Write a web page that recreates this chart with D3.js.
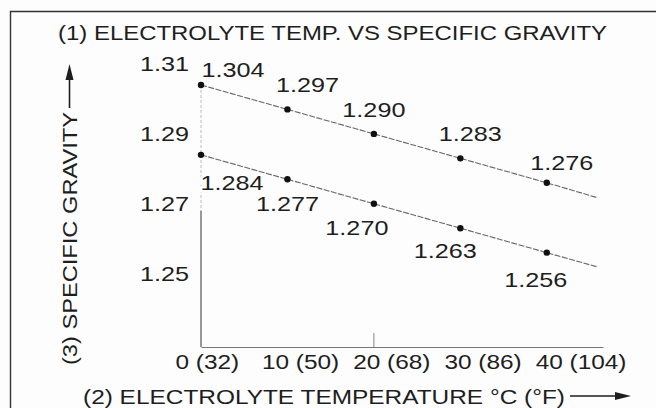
<!DOCTYPE html>
<html>
<head>
<meta charset="utf-8">
<script src="https://cdn.jsdelivr.net/npm/d3@7/dist/d3.min.js"></script>
<style>
  html, body { margin: 0; padding: 0; background: #fdfdfd; }
  svg { display: block; }
  text { font-family: "Liberation Sans", Arial, Helvetica, sans-serif; fill: #1e1e1e; }
</style>
</head>
<body>
<svg id="chart" width="656" height="408"></svg>
<script>
// ---- data ----
const temps = [0, 10, 20, 30, 40];                       // °C
const upperSG = [1.304, 1.297, 1.290, 1.283, 1.276];     // upper line
const lowerSG = [1.284, 1.277, 1.270, 1.263, 1.256];     // lower line
const xTickLabels = ["0 (32)", "10 (50)", "20 (68)", "30 (86)", "40 (104)"];
const yTickValues = [1.31, 1.29, 1.27, 1.25];
const markedTick = 20;                                    // only visible tick mark
const lineEndTemp = 45.9;                                 // lines run past last point
const upperEndSG = 1.2717;
const lowerEndSG = 1.2519;

const titleText = "(1) ELECTROLYTE TEMP. VS SPECIFIC GRAVITY";
const xTitleText = "(2) ELECTROLYTE TEMPERATURE \u00B0C (\u00B0F)";
const yTitleText = "(3) SPECIFIC GRAVITY";

// ---- layout (label nudges relative to their points, px) ----
const upperLabelDx = [32, 20, 0, 10, 15];
const upperLabelDy = [-8, -17, -17, -17, -13];
const lowerLabelDx = [31, 0, -17, -15, -11];
const lowerLabelDy = [35, 32, 31, 30, 34];

const svg = d3.select("#chart");
const W = 656, H = 408;

// widen glyphs (the reference uses an extended grotesque face)
function widen(sel, factor) {
  sel.each(function () {
    const w = this.getComputedTextLength();
    d3.select(this).attr("textLength", w * factor).attr("lengthAdjust", "spacingAndGlyphs");
  });
}

const x = d3.scaleLinear().domain([0, 46.5]).range([201, 603]);
const y = d3.scaleLinear().domain([1.229, 1.31]).range([347, 64]);

// frame
svg.append("path")
  .attr("d", `M10.5,${H} V11.5 H${W}`)
  .attr("fill", "none").attr("stroke", "#333").attr("stroke-width", 1.4);

// title
svg.append("text")
  .attr("x", 58).attr("y", 40)
  .attr("font-size", 21)
  .attr("textLength", 549).attr("lengthAdjust", "spacingAndGlyphs")
  .text(titleText);

// axes lines
const y0 = y.domain()[0];
svg.append("line")
  .attr("x1", x(0)).attr("x2", x(0))
  .attr("y1", y(upperSG[0])).attr("y2", y(1.268))
  .attr("stroke", "#bbb").attr("stroke-width", 1).attr("stroke-dasharray", "3,2");
svg.append("line")
  .attr("x1", x(0)).attr("x2", x(0))
  .attr("y1", y(1.268)).attr("y2", y(y0))
  .attr("stroke", "#555").attr("stroke-width", 1.2);

const xAxis = d3.axisBottom(x).tickValues(temps).tickSize(0).tickFormat((d, i) => xTickLabels[i]);
const gx = svg.append("g").attr("transform", `translate(0,${y(y0)})`).call(xAxis);
gx.select(".domain").attr("stroke", "#777").attr("stroke-width", 1.1);
gx.selectAll(".tick text")
  .attr("font-size", 19.5)
  .attr("fill", "#1e1e1e")
  .style("font-family", "'Liberation Sans', Arial, sans-serif")
  .attr("y", 0).attr("dy", 21.5);
widen(gx.selectAll(".tick text"), 1.25);

// simple left-to-right collision layout for the x tick labels
let prevEnd = -Infinity;
gx.selectAll(".tick").each(function (d) {
  const t = d3.select(this).select("text");
  const w = +t.attr("textLength");
  const start = Math.max(-26, prevEnd + 14 - x(d));
  t.attr("text-anchor", "start").attr("x", start);
  prevEnd = x(d) + start + w;
});

// the single visible tick mark
svg.append("line")
  .attr("x1", x(markedTick)).attr("x2", x(markedTick))
  .attr("y1", y(y0)).attr("y2", y(y0) - 14)
  .attr("stroke", "#888").attr("stroke-width", 1);

const yAxis = d3.axisLeft(y).tickValues(yTickValues).tickSize(0).tickFormat(d3.format(".2f"));
const gy = svg.append("g").attr("transform", `translate(${x(0)},0)`).call(yAxis);
gy.select(".domain").remove();
gy.selectAll(".tick text")
  .attr("font-size", 21)
  .attr("fill", "#1e1e1e")
  .style("font-family", "'Liberation Sans', Arial, sans-serif")
  .attr("x", -12);
widen(gy.selectAll(".tick text"), 1.2);

// lines
const lineGen = d3.line().x(d => x(d[0])).y(d => y(d[1]));
const series = [
  { vals: upperSG, end: upperEndSG, dx: upperLabelDx, dy: upperLabelDy },
  { vals: lowerSG, end: lowerEndSG, dx: lowerLabelDx, dy: lowerLabelDy }
];

series.forEach(s => {
  const pts = temps.map((t, i) => [t, s.vals[i]]).concat([[lineEndTemp, s.end]]);
  svg.append("path")
    .attr("d", lineGen(pts))
    .attr("fill", "none")
    .attr("stroke", "#666")
    .attr("stroke-width", 1.1)
    .attr("stroke-dasharray", "6,1.5");
});

series.forEach(s => {
  // labels with white halo (breaks the line where they overlap)
  const lab = svg.append("g").selectAll("text")
    .data(temps)
    .join("text")
    .attr("x", (t, i) => x(t) + s.dx[i])
    .attr("y", (t, i) => y(s.vals[i]) + s.dy[i])
    .attr("text-anchor", "middle")
    .attr("font-size", 21)
    .attr("stroke", "#fdfdfd").attr("stroke-width", 5)
    .attr("paint-order", "stroke")
    .text((t, i) => s.vals[i].toFixed(3));
  widen(lab, 1.2);
  svg.append("g").selectAll("circle")
    .data(temps)
    .join("circle")
    .attr("cx", t => x(t))
    .attr("cy", (t, i) => y(s.vals[i]))
    .attr("r", 3.2)
    .attr("fill", "#111");
});

// y axis title (rotated) with arrow
svg.append("text")
  .attr("transform", "translate(77,365) rotate(-90)")
  .attr("font-size", 21)
  .attr("textLength", 253).attr("lengthAdjust", "spacingAndGlyphs")
  .text(yTitleText);
svg.append("line")
  .attr("x1", 69.5).attr("x2", 69.5).attr("y1", 108).attr("y2", 76)
  .attr("stroke", "#1e1e1e").attr("stroke-width", 1.6);
svg.append("path")
  .attr("d", "M69.5,64 L65.5,80 L73.5,80 Z").attr("fill", "#1e1e1e");

// x axis title with arrow
svg.append("text")
  .attr("x", 83).attr("y", 404)
  .attr("font-size", 19.5)
  .attr("textLength", 482).attr("lengthAdjust", "spacingAndGlyphs")
  .text(xTitleText);
svg.append("line")
  .attr("x1", 570).attr("x2", 620).attr("y1", 396).attr("y2", 396)
  .attr("stroke", "#1e1e1e").attr("stroke-width", 1.6);
svg.append("path")
  .attr("d", "M631,396 L615,392 L615,400 Z").attr("fill", "#1e1e1e");
</script>
</body>
</html>
